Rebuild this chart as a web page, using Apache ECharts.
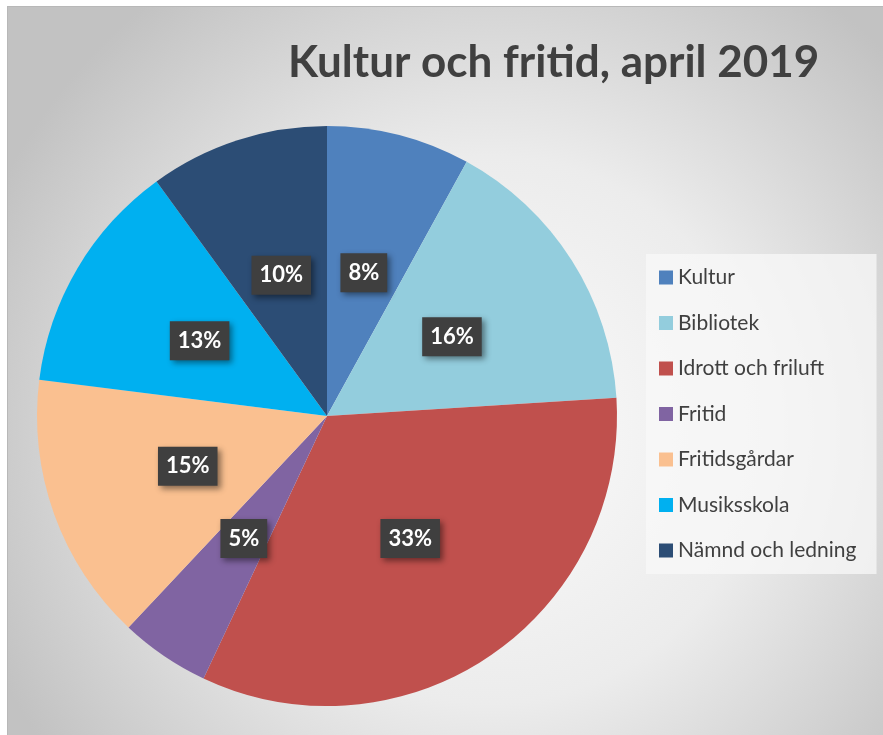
<!DOCTYPE html>
<html>
<head>
<meta charset="utf-8">
<script src="https://cdn.jsdelivr.net/npm/echarts@6/dist/echarts.min.js"></script>
<style>
html,body{margin:0;padding:0;background:#fff;width:883px;height:735px;overflow:hidden;}
#frame{position:absolute;left:7px;top:6px;width:876px;height:729px;border-left:1px solid #b8b8b8;border-top:1px solid #b8b8b8;}
#chart{position:absolute;left:0;top:0;width:876px;height:729px;}
</style>
</head>
<body>
<div id="frame"><div id="chart"></div></div>
<script>
const titleText = 'Kultur och fritid, april 2019';
const categories = ['Kultur','Bibliotek','Idrott och friluft','Fritid','Fritidsgårdar','Musiksskola','Nämnd och ledning'];
const values = [8, 16, 33, 5, 15, 13, 10];
const colors = ['#4F81BD','#93CDDD','#C0504D','#8064A2','#FAC090','#00B0F0','#2C4D75'];

const chart = echarts.init(document.getElementById('chart'), null, {renderer:'canvas'});
const FONT = 'Lato, "Open Sans", sans-serif';
chart.setOption({
  backgroundColor: {
    type: 'radial', x: 0.55, y: 0.58, r: 0.75,
    colorStops: [{offset:0, color:'#fbfbfb'},{offset:0.5, color:'#ececec'},{offset:1, color:'#c2c2c2'}]
  },
  title: {
    text: titleText,
    left: 275, top: 29,
    textStyle: {fontFamily: FONT, fontSize: 44, fontWeight: 'bold', color: '#404040'}
  },
  legend: {
    orient: 'vertical',
    left: 638, top: 247,
    padding: [13, 20, 13, 13],
    backgroundColor: 'rgba(248,248,248,0.75)',
    itemWidth: 14, itemHeight: 14, itemGap: 24.5,
    icon: 'rect',
    data: categories,
    textStyle: {fontFamily: FONT, fontSize: 21, color: '#404040', lineHeight: 20}
  },
  series: [{
    type: 'pie',
    center: [319, 409],
    radius: 290,
    startAngle: 90,
    clockwise: true,
    avoidLabelOverlap: false,
    silent: true,
    data: categories.map((c, i) => ({name: c, value: values[i], itemStyle: {color: colors[i]}})),
    label: {
      show: true,
      position: 'inside',
      formatter: p => p.value + '%',
      fontFamily: FONT, fontSize: 22, fontWeight: 'bold', color: '#ffffff',
      backgroundColor: '#3f3f3f',
      padding: [9, 8, 8, 8],
      shadowColor: 'rgba(0,0,0,0.45)', shadowBlur: 6, shadowOffsetX: 3, shadowOffsetY: 3
    },
    labelLine: {show: false}
  }]
});
</script>
</body>
</html>
